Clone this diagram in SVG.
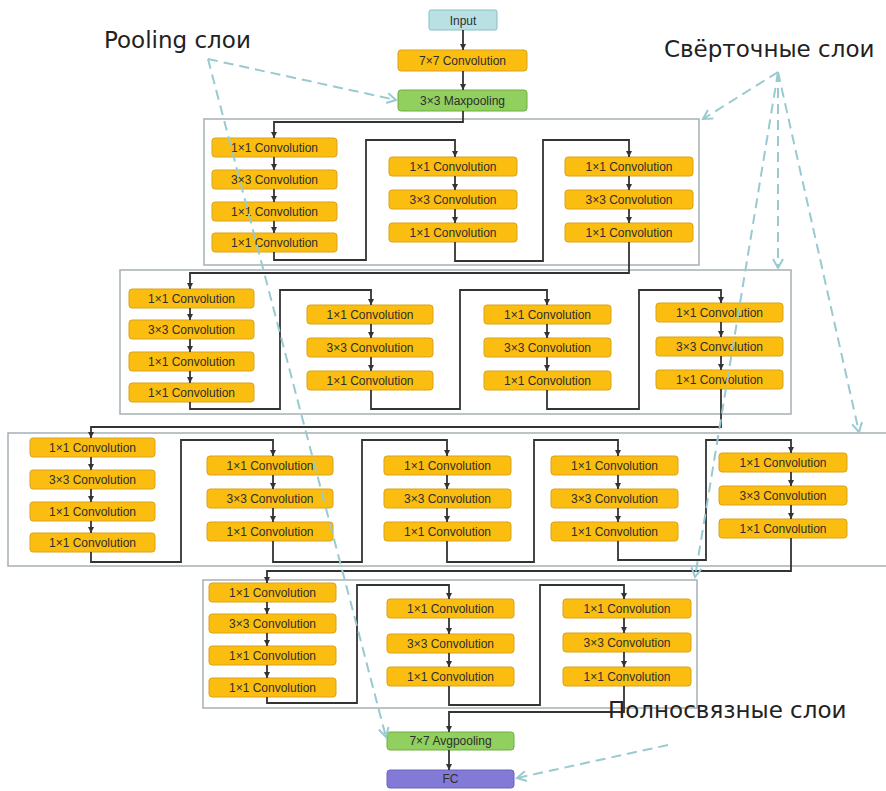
<svg xmlns="http://www.w3.org/2000/svg" width="886" height="791" viewBox="0 0 886 791">
  <style>
    .frame { fill: #ffffff; stroke: #a7b0b4; stroke-width: 1.5; }
    .conv rect { fill: #fbbd10; stroke: #d9a31c; stroke-width: 1; }
    .pool rect { fill: #91cf5f; stroke: #6fae40; stroke-width: 1; }
    .inp rect { fill: #b9e1e4; stroke: #84bfc4; stroke-width: 1; }
    .fc rect { fill: #827ad6; stroke: #6a62c0; stroke-width: 1; }
    .node text { font-family: "Liberation Sans", Arial, sans-serif; font-size: 12px; fill: #2e2e2e; text-anchor: middle; }
    .wire { fill: none; stroke: #333333; stroke-width: 1.8; marker-end: url(#head); }
    .note { fill: none; stroke: #98cacf; stroke-width: 2; stroke-dasharray: 10 6; marker-end: url(#open); }
    .label { font-family: "DejaVu Sans", Verdana, sans-serif; font-size: 23px; fill: #222222; }
  </style>
  <defs>
    <marker id="head" markerUnits="userSpaceOnUse" markerWidth="7" markerHeight="7" refX="6" refY="3" orient="auto">
      <path d="M0,0 L6,3 L0,6 z" fill="#333333"/>
    </marker>
    <marker id="open" markerUnits="userSpaceOnUse" markerWidth="14" markerHeight="14" refX="10" refY="6" orient="auto">
      <path d="M1,1 L10,6 L1,11" fill="none" stroke="#98cacf" stroke-width="2"/>
    </marker>
  </defs>

  <rect width="886" height="791" fill="#ffffff"/>

  <!-- stage frames -->
  <g id="frames">
    <rect id="stage1" class="frame" x="204" y="119" width="495" height="146"/>
    <rect id="stage2" class="frame" x="120" y="270" width="671" height="144"/>
    <rect id="stage3" class="frame" x="8" y="433" width="890" height="133"/>
    <rect id="stage4" class="frame" x="203" y="580" width="494" height="128"/>
  </g>

  <!-- stem -->
  <g id="n-input" class="node inp"><rect x="429" y="10" width="68" height="20" rx="2"/><text x="463" y="24.5">Input</text></g>
  <g id="n-conv7" class="node conv"><rect x="398" y="50" width="129" height="21" rx="3"/><text x="462.5" y="65">7×7 Convolution</text></g>
  <g id="n-maxpool" class="node pool"><rect x="398" y="90" width="129" height="21" rx="3"/><text x="462.5" y="105">3×3 Maxpooling</text></g>

  <!-- stage 1 -->
  <g id="s1c1b1" class="node conv"><rect x="212" y="138" width="125" height="19" rx="3"/><text x="274.5" y="151.5">1×1 Convolution</text></g>
  <g id="s1c1b2" class="node conv"><rect x="212" y="170" width="125" height="19" rx="3"/><text x="274.5" y="183.5">3×3 Convolution</text></g>
  <g id="s1c1b3" class="node conv"><rect x="212" y="202" width="125" height="19" rx="3"/><text x="274.5" y="215.5">1×1 Convolution</text></g>
  <g id="s1c1b4" class="node conv"><rect x="212" y="233" width="125" height="19" rx="3"/><text x="274.5" y="246.5">1×1 Convolution</text></g>
  <g id="s1c2b1" class="node conv"><rect x="389" y="157" width="128" height="19" rx="3"/><text x="453" y="170.5">1×1 Convolution</text></g>
  <g id="s1c2b2" class="node conv"><rect x="389" y="190" width="128" height="19" rx="3"/><text x="453" y="203.5">3×3 Convolution</text></g>
  <g id="s1c2b3" class="node conv"><rect x="389" y="223" width="128" height="19" rx="3"/><text x="453" y="236.5">1×1 Convolution</text></g>
  <g id="s1c3b1" class="node conv"><rect x="565" y="157" width="128" height="19" rx="3"/><text x="629" y="170.5">1×1 Convolution</text></g>
  <g id="s1c3b2" class="node conv"><rect x="565" y="190" width="128" height="19" rx="3"/><text x="629" y="203.5">3×3 Convolution</text></g>
  <g id="s1c3b3" class="node conv"><rect x="565" y="223" width="128" height="19" rx="3"/><text x="629" y="236.5">1×1 Convolution</text></g>

  <!-- stage 2 -->
  <g id="s2c1b1" class="node conv"><rect x="129" y="289" width="125" height="19" rx="3"/><text x="191.5" y="302.5">1×1 Convolution</text></g>
  <g id="s2c1b2" class="node conv"><rect x="129" y="320" width="125" height="19" rx="3"/><text x="191.5" y="333.5">3×3 Convolution</text></g>
  <g id="s2c1b3" class="node conv"><rect x="129" y="352" width="125" height="19" rx="3"/><text x="191.5" y="365.5">1×1 Convolution</text></g>
  <g id="s2c1b4" class="node conv"><rect x="129" y="383" width="125" height="19" rx="3"/><text x="191.5" y="396.5">1×1 Convolution</text></g>
  <g id="s2c2b1" class="node conv"><rect x="307" y="305" width="126" height="19" rx="3"/><text x="370" y="318.5">1×1 Convolution</text></g>
  <g id="s2c2b2" class="node conv"><rect x="307" y="338" width="126" height="19" rx="3"/><text x="370" y="351.5">3×3 Convolution</text></g>
  <g id="s2c2b3" class="node conv"><rect x="307" y="371" width="126" height="19" rx="3"/><text x="370" y="384.5">1×1 Convolution</text></g>
  <g id="s2c3b1" class="node conv"><rect x="484" y="305" width="127" height="19" rx="3"/><text x="547.5" y="318.5">1×1 Convolution</text></g>
  <g id="s2c3b2" class="node conv"><rect x="484" y="338" width="127" height="19" rx="3"/><text x="547.5" y="351.5">3×3 Convolution</text></g>
  <g id="s2c3b3" class="node conv"><rect x="484" y="371" width="127" height="19" rx="3"/><text x="547.5" y="384.5">1×1 Convolution</text></g>
  <g id="s2c4b1" class="node conv"><rect x="656" y="303" width="127" height="19" rx="3"/><text x="719.5" y="316.5">1×1 Convolution</text></g>
  <g id="s2c4b2" class="node conv"><rect x="656" y="337" width="127" height="19" rx="3"/><text x="719.5" y="350.5">3×3 Convolution</text></g>
  <g id="s2c4b3" class="node conv"><rect x="656" y="370" width="127" height="19" rx="3"/><text x="719.5" y="383.5">1×1 Convolution</text></g>

  <!-- stage 3 -->
  <g id="s3c1b1" class="node conv"><rect x="30" y="438" width="125" height="19" rx="3"/><text x="92.5" y="451.5">1×1 Convolution</text></g>
  <g id="s3c1b2" class="node conv"><rect x="30" y="470" width="125" height="19" rx="3"/><text x="92.5" y="483.5">3×3 Convolution</text></g>
  <g id="s3c1b3" class="node conv"><rect x="30" y="502" width="125" height="19" rx="3"/><text x="92.5" y="515.5">1×1 Convolution</text></g>
  <g id="s3c1b4" class="node conv"><rect x="30" y="533" width="125" height="19" rx="3"/><text x="92.5" y="546.5">1×1 Convolution</text></g>
  <g id="s3c2b1" class="node conv"><rect x="207" y="456" width="126" height="19" rx="3"/><text x="270" y="469.5">1×1 Convolution</text></g>
  <g id="s3c2b2" class="node conv"><rect x="207" y="489" width="126" height="19" rx="3"/><text x="270" y="502.5">3×3 Convolution</text></g>
  <g id="s3c2b3" class="node conv"><rect x="207" y="522" width="126" height="19" rx="3"/><text x="270" y="535.5">1×1 Convolution</text></g>
  <g id="s3c3b1" class="node conv"><rect x="384" y="456" width="127" height="19" rx="3"/><text x="447.5" y="469.5">1×1 Convolution</text></g>
  <g id="s3c3b2" class="node conv"><rect x="384" y="489" width="127" height="19" rx="3"/><text x="447.5" y="502.5">3×3 Convolution</text></g>
  <g id="s3c3b3" class="node conv"><rect x="384" y="522" width="127" height="19" rx="3"/><text x="447.5" y="535.5">1×1 Convolution</text></g>
  <g id="s3c4b1" class="node conv"><rect x="551" y="456" width="127" height="19" rx="3"/><text x="614.5" y="469.5">1×1 Convolution</text></g>
  <g id="s3c4b2" class="node conv"><rect x="551" y="489" width="127" height="19" rx="3"/><text x="614.5" y="502.5">3×3 Convolution</text></g>
  <g id="s3c4b3" class="node conv"><rect x="551" y="522" width="127" height="19" rx="3"/><text x="614.5" y="535.5">1×1 Convolution</text></g>
  <g id="s3c5b1" class="node conv"><rect x="719" y="453" width="128" height="19" rx="3"/><text x="783" y="466.5">1×1 Convolution</text></g>
  <g id="s3c5b2" class="node conv"><rect x="719" y="486" width="128" height="19" rx="3"/><text x="783" y="499.5">3×3 Convolution</text></g>
  <g id="s3c5b3" class="node conv"><rect x="719" y="519" width="128" height="19" rx="3"/><text x="783" y="532.5">1×1 Convolution</text></g>

  <!-- stage 4 -->
  <g id="s4c1b1" class="node conv"><rect x="209" y="583" width="127" height="19" rx="3"/><text x="272.5" y="596.5">1×1 Convolution</text></g>
  <g id="s4c1b2" class="node conv"><rect x="209" y="614" width="127" height="19" rx="3"/><text x="272.5" y="627.5">3×3 Convolution</text></g>
  <g id="s4c1b3" class="node conv"><rect x="209" y="646" width="127" height="19" rx="3"/><text x="272.5" y="659.5">1×1 Convolution</text></g>
  <g id="s4c1b4" class="node conv"><rect x="209" y="678" width="127" height="19" rx="3"/><text x="272.5" y="691.5">1×1 Convolution</text></g>
  <g id="s4c2b1" class="node conv"><rect x="387" y="599" width="127" height="19" rx="3"/><text x="450.5" y="612.5">1×1 Convolution</text></g>
  <g id="s4c2b2" class="node conv"><rect x="387" y="634" width="127" height="19" rx="3"/><text x="450.5" y="647.5">3×3 Convolution</text></g>
  <g id="s4c2b3" class="node conv"><rect x="387" y="667" width="127" height="19" rx="3"/><text x="450.5" y="680.5">1×1 Convolution</text></g>
  <g id="s4c3b1" class="node conv"><rect x="563" y="599" width="128" height="19" rx="3"/><text x="627" y="612.5">1×1 Convolution</text></g>
  <g id="s4c3b2" class="node conv"><rect x="563" y="633" width="128" height="19" rx="3"/><text x="627" y="646.5">3×3 Convolution</text></g>
  <g id="s4c3b3" class="node conv"><rect x="563" y="667" width="128" height="19" rx="3"/><text x="627" y="680.5">1×1 Convolution</text></g>

  <!-- head -->
  <g id="n-avgpool" class="node pool"><rect x="387" y="732" width="127" height="18" rx="3"/><text x="450.5" y="745">7×7 Avgpooling</text></g>
  <g id="n-fc" class="node fc"><rect x="387" y="770" width="127" height="18" rx="3"/><text x="450.5" y="783">FC</text></g>

  <!-- data-flow connectors -->
  <g id="connectors">
    <path class="wire" d="M463,30 V50"/>
    <path class="wire" d="M463,71 V90"/>
    <path class="wire" d="M463,111 V122 H274 V138"/>
    <!-- stage 1 -->
    <path class="wire" d="M274,157 V170"/>
    <path class="wire" d="M274,189 V202"/>
    <path class="wire" d="M274,221 V233"/>
    <path class="wire" d="M455,176 V190"/>
    <path class="wire" d="M455,209 V223"/>
    <path class="wire" d="M629,176 V190"/>
    <path class="wire" d="M629,209 V223"/>
    <path class="wire" d="M274,252 V260 H366 V140 H455 V157"/>
    <path class="wire" d="M455,242 V261 H543 V140 H629 V157"/>
    <path class="wire" d="M629,242 V273 H190 V289"/>
    <!-- stage 2 -->
    <path class="wire" d="M190,308 V320"/>
    <path class="wire" d="M190,339 V352"/>
    <path class="wire" d="M190,371 V383"/>
    <path class="wire" d="M371,324 V338"/>
    <path class="wire" d="M371,357 V371"/>
    <path class="wire" d="M547,324 V338"/>
    <path class="wire" d="M547,357 V371"/>
    <path class="wire" d="M721,322 V337"/>
    <path class="wire" d="M721,356 V370"/>
    <path class="wire" d="M190,402 V409 H280 V290 H371 V305"/>
    <path class="wire" d="M371,390 V409 H460 V290 H547 V305"/>
    <path class="wire" d="M547,390 V409 H639 V290 H721 V303"/>
    <path class="wire" d="M721,389 V427 H91 V438"/>
    <!-- stage 3 -->
    <path class="wire" d="M91,457 V470"/>
    <path class="wire" d="M91,489 V502"/>
    <path class="wire" d="M91,521 V533"/>
    <path class="wire" d="M273,475 V489"/>
    <path class="wire" d="M273,508 V522"/>
    <path class="wire" d="M447,475 V489"/>
    <path class="wire" d="M447,508 V522"/>
    <path class="wire" d="M618,475 V489"/>
    <path class="wire" d="M618,508 V522"/>
    <path class="wire" d="M791,472 V486"/>
    <path class="wire" d="M791,505 V519"/>
    <path class="wire" d="M91,552 V562 H181 V440 H273 V456"/>
    <path class="wire" d="M273,541 V562 H362 V440 H447 V456"/>
    <path class="wire" d="M447,541 V562 H534 V440 H618 V456"/>
    <path class="wire" d="M618,541 V560 H706 V440 H791 V453"/>
    <path class="wire" d="M791,538 V571 H267 V583"/>
    <!-- stage 4 -->
    <path class="wire" d="M267,602 V614"/>
    <path class="wire" d="M267,633 V646"/>
    <path class="wire" d="M267,665 V678"/>
    <path class="wire" d="M449,618 V634"/>
    <path class="wire" d="M449,653 V667"/>
    <path class="wire" d="M624,618 V633"/>
    <path class="wire" d="M624,652 V667"/>
    <path class="wire" d="M267,697 V703 H357 V585 H449 V599"/>
    <path class="wire" d="M449,686 V705 H540 V585 H624 V599"/>
    <path class="wire" d="M624,686 V712 H449 V732"/>
    <path class="wire" d="M449,750 V770"/>
  </g>

  <!-- callouts -->
  <g id="callouts">
    <text class="label" x="104" y="48">Pooling слои</text>
    <text class="label" x="664" y="57">Свёрточные слои</text>
    <text class="label" x="608" y="718">Полносвязные слои</text>
    <path class="note" d="M208,59 L396,100"/>
    <path class="note" d="M208,59 L386,737"/>
    <path class="note" d="M778,72 L703,119"/>
    <path class="note" d="M778,72 L778,268"/>
    <path class="note" d="M778,72 L695,577"/>
    <path class="note" d="M778,72 L859,432"/>
    <path class="note" d="M668,745 L517,778"/>
  </g>
</svg>
